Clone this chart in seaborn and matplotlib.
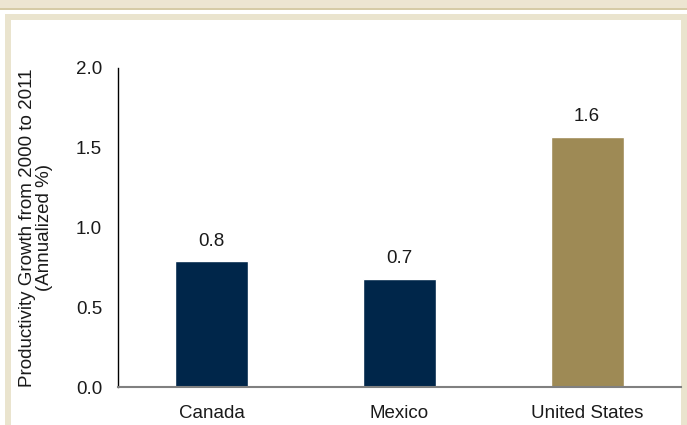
import matplotlib
matplotlib.use("Agg")
import matplotlib.pyplot as plt
import seaborn as sns
import pandas as pd
from matplotlib.patches import Rectangle

countries = ["Canada", "Mexico", "United States"]
growth = [0.79, 0.68, 1.57]
value_labels = ["0.8", "0.7", "1.6"]
bar_colors = ["#00264A", "#00264A", "#9E8A55"]
yticks = [0.0, 0.5, 1.0, 1.5, 2.0]
ylabel = "Productivity Growth from 2000 to 2011\n(Annualized %)"

sns.set_theme(style="white")
plt.rcParams['font.family'] = ['Liberation Sans', 'DejaVu Sans']

W, H = 687, 425
FS = 13.5
fig = plt.figure(figsize=(W / 100, H / 100), dpi=100)

def px(x0, y0, x1, y1, color):
    fig.patches.append(Rectangle((x0 / W, 1 - y1 / H), (x1 - x0) / W, (y1 - y0) / H,
                                 transform=fig.transFigure, facecolor=color,
                                 edgecolor="none", zorder=-10))

# decorative frame
px(0, 0, W, 8, "#EDE5D1")
px(0, 8, W, 10, "#D6CBA6")
px(5, 14, 687, 425, "#EAE4CE")
px(11, 20, 681, 425, "white")

ax = fig.add_axes([118 / W, 1 - 387 / H, (681 - 118) / W, (387 - 68) / H])
ax.set_facecolor("none")
df = pd.DataFrame({"country": countries, "growth": growth})
sns.barplot(data=df, x="country", y="growth", hue="country", palette=bar_colors,
            width=0.39, legend=False, ax=ax, saturation=1)
for cont, lab in zip(ax.containers, value_labels):
    ax.bar_label(cont, labels=[lab], padding=8, fontsize=FS, color="#1a1a1a")

ax.set_xlim(-0.5, 2.5)
ax.set_ylim(0, 2.0)
ax.set_yticks(yticks)
ax.set_yticklabels([f"{v:.1f}" for v in yticks])
ax.tick_params(axis="both", length=0, labelsize=FS, labelcolor="#1a1a1a")
ax.tick_params(axis="y", pad=11.5)
ax.tick_params(axis="x", pad=13)
ax.set_xlabel("")
ax.set_ylabel(ylabel, fontsize=FS, color="#1a1a1a", linespacing=1.05)
ax.yaxis.set_label_coords(-0.115, 0.5)
for s in ["top", "right"]:
    ax.spines[s].set_visible(False)
ax.spines["left"].set_color("black")
ax.spines["left"].set_linewidth(1)
ax.spines["bottom"].set_color("#808080")
ax.spines["bottom"].set_linewidth(1.5)

fig.savefig("out.png", dpi=100)
